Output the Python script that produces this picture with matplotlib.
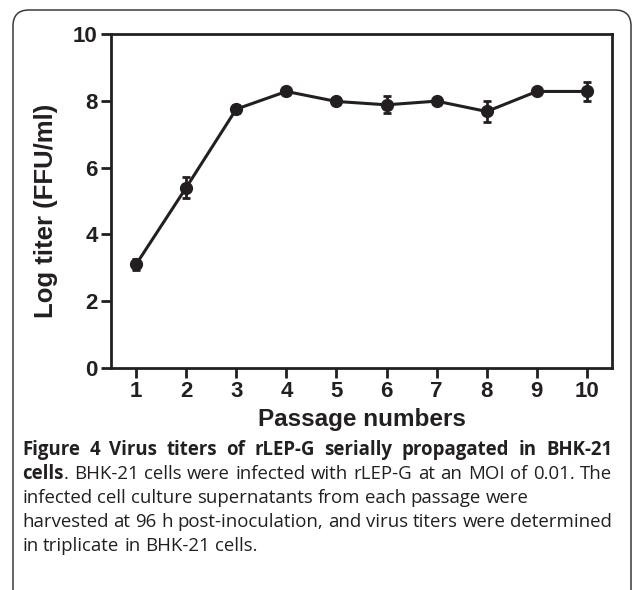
import matplotlib
matplotlib.use("Agg")
import matplotlib.pyplot as plt
from matplotlib.patches import FancyBboxPatch

# ---- data ----
passages = [1, 2, 3, 4, 5, 6, 7, 8, 9, 10]
log_titer = [3.1, 5.4, 7.75, 8.28, 7.98, 7.88, 7.99, 7.68, 8.28, 8.28]
titer_err = [0.17, 0.32, 0.12, 0.1, 0.06, 0.26, 0.1, 0.32, 0.08, 0.28]
y_ticks = [0, 2, 4, 6, 8, 10]
x_label = "Passage numbers"
y_label = "Log titer (FFU/ml)"
# caption lines: list of words, each word a list of (text, weight) segments;
# flag says whether line is justified
caption = [
    ([[("Figure", "bold")], [("4", "bold")], [("Virus", "bold")], [("titers", "bold")],
      [("of", "bold")], [("rLEP-G", "bold")], [("serially", "bold")],
      [("propagated", "bold")], [("in", "bold")], [("BHK-21", "bold")]], True),
    ([[("cells", "bold"), (".", "normal")]] +
     [[(w, "normal")] for w in "BHK-21 cells were infected with rLEP-G at an MOI of 0.01. The".split()], True),
    ([[(w, "normal")] for w in "infected cell culture supernatants from each passage were".split()], False),
    ([[(w, "normal")] for w in "harvested at 96 h post-inoculation, and virus titers were determined".split()], True),
    ([[(w, "normal")] for w in "in triplicate in BHK-21 cells.".split()], False),
]

W, H, DPI = 633, 590, 100
fig = plt.figure(figsize=(W / DPI, H / DPI), dpi=DPI)
ink = "#231f20"

# outer rounded frame
box = FancyBboxPatch((13 / DPI, -0.5), (631 - 13) / DPI, (H - 10) / DPI + 0.5,
                     boxstyle="round,pad=0,rounding_size=0.16",
                     transform=fig.dpi_scale_trans, fill=False,
                     edgecolor="#3a3a3a", linewidth=1.1, zorder=0)
fig.add_artist(box)

# axes in pixel positions
left, right, top, bottom = 111, 612, 34, 368
ax = fig.add_axes([left / W, 1 - bottom / H, (right - left) / W, (bottom - top) / H])
ax.errorbar(passages, log_titer, yerr=titer_err, color=ink, lw=2.2,
            marker="o", markersize=8.5, capsize=3, capthick=2, elinewidth=2,
            zorder=3)
ax.set_xlim(0.5, 10.5)
ax.set_ylim(0, 10)
ax.set_xticks(passages)
ax.set_yticks(y_ticks)
for s in ax.spines.values():
    s.set_linewidth(2.0)
    s.set_color(ink)
ax.tick_params(direction="out", length=7, width=2.0, color=ink, pad=2.5,
               labelsize=16, labelcolor=ink)
for lab in ax.get_xticklabels() + ax.get_yticklabels():
    lab.set_fontfamily("Liberation Sans")
    lab.set_fontweight("bold")
ax.set_xlabel(x_label, fontsize=17.5, fontweight="bold", family="Liberation Sans",
              color=ink)
ax.set_ylabel(y_label, fontsize=18.5, fontweight="bold", family="Liberation Sans",
              color=ink)
ax.xaxis.set_label_coords(0.5, (368 - 408) / 334)
ax.yaxis.set_label_coords((58 - 111) / 501, 0.47)

# caption with justification
fs = 13.4
renderer = fig.canvas.get_renderer()


def seg_width(s, weight):
    t = fig.text(0, 0, s, fontsize=fs, fontweight=weight, family="Open Sans")
    w = t.get_window_extent(renderer).width
    t.remove()
    return w


space_w = seg_width("a a", "normal") - seg_width("aa", "normal")
x_start, x_end = 22, 612
baselines = [455, 479, 503, 527, 551]
for (words, justify), yb in zip(caption, baselines):
    widths = [[seg_width(t, wt) for t, wt in word] for word in words]
    total = sum(sum(ws) for ws in widths)
    gap = (x_end - x_start - total) / (len(words) - 1) if justify else space_w
    x = x_start
    for word, ws in zip(words, widths):
        for (t, wt), w in zip(word, ws):
            fig.text(x / W, 1 - yb / H, t, fontsize=fs, fontweight=wt,
                     family="Open Sans", color=ink, va="baseline", ha="left")
            x += w
        x += gap

fig.savefig("out.png", dpi=DPI)
